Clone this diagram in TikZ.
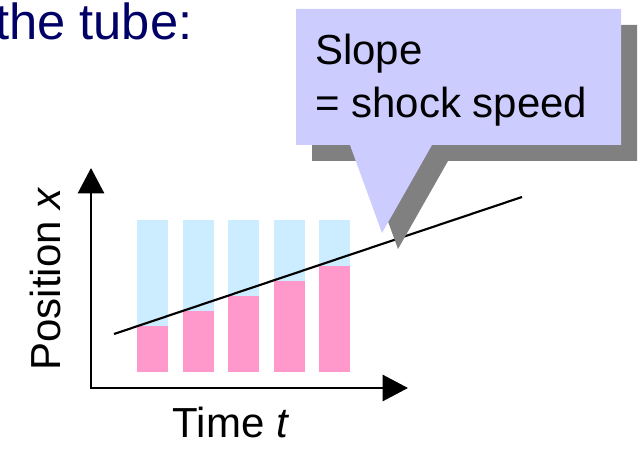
\documentclass[tikz,border=0pt]{standalone}
\usepackage{fontspec}
\setmainfont{Liberation Sans}
\usetikzlibrary{arrows.meta}
\definecolor{tubeblue}{RGB}{204,236,255}
\definecolor{tubepink}{RGB}{255,153,204}
\definecolor{calloutfill}{RGB}{204,204,255}
\definecolor{shadowgray}{RGB}{128,128,128}
\definecolor{titlenavy}{RGB}{0,0,102}
\tikzset{
    axis/.style={
        {Triangle[length=19pt,width=19.5pt]}-{Triangle[length=19pt,width=19.5pt]},
        line width=2pt,
        draw=black
    },
    label/.style={
        font=\fontsize{31.5}{36}\selectfont,
        inner sep=0pt
    }
}
\begin{document}
\begin{tikzpicture}[x=0.75pt, y=-0.75pt]
            \clip (0,0) rectangle (642,452);
            \useasboundingbox (0,0) rectangle (642,452);

            % Heading
            \node[label, anchor=base west, text=titlenavy,
                font=\fontsize{38}{40}\selectfont] (heading) at (-5,40) {the tube:};

            % Tube snapshots
            \foreach \i in {0,...,4} {
                \fill[tubeblue] (137+45.5*\i,220) rectangle ++(31,152);
                \fill[tubepink] (137+45.5*\i,372) rectangle ++(31,-46-15*\i);
            }

            % Axes
            \coordinate (origin) at (91,388);
            \coordinate (ytop) at (91,168);
            \coordinate (xend) at (408,388);
            \draw[axis] (ytop) -- (origin) -- (xend);
            \node[label, anchor=base] (tlabel) at (231,437) {Time \textit{t}};
            \node[label, rotate=90] (xlabel) at (45,279) {Position \textit{x}};

            % Shock path
            \coordinate (s0) at (114,334);
            \coordinate (s1) at (522,197);
            \draw[line width=1.6pt] (s0) -- (s1);

            % Callout with shadow
            \fill[shadowgray, shift={(16,16)}]
                (296,9) -- (621,9) -- (621,145) -- (432,145) -- (382,233)
                -- (350,145) -- (296,145) -- cycle;
            \fill[calloutfill]
                (296,9) -- (621,9) -- (621,145) -- (432,145) -- (382,233)
                -- (350,145) -- (296,145) -- cycle;
            \node[label, anchor=base west, align=left,
                font=\fontsize{31.5}{39.75}\selectfont] (slope) at (315,118)
                {Slope\\= shock speed};
\end{tikzpicture}
\end{document}
